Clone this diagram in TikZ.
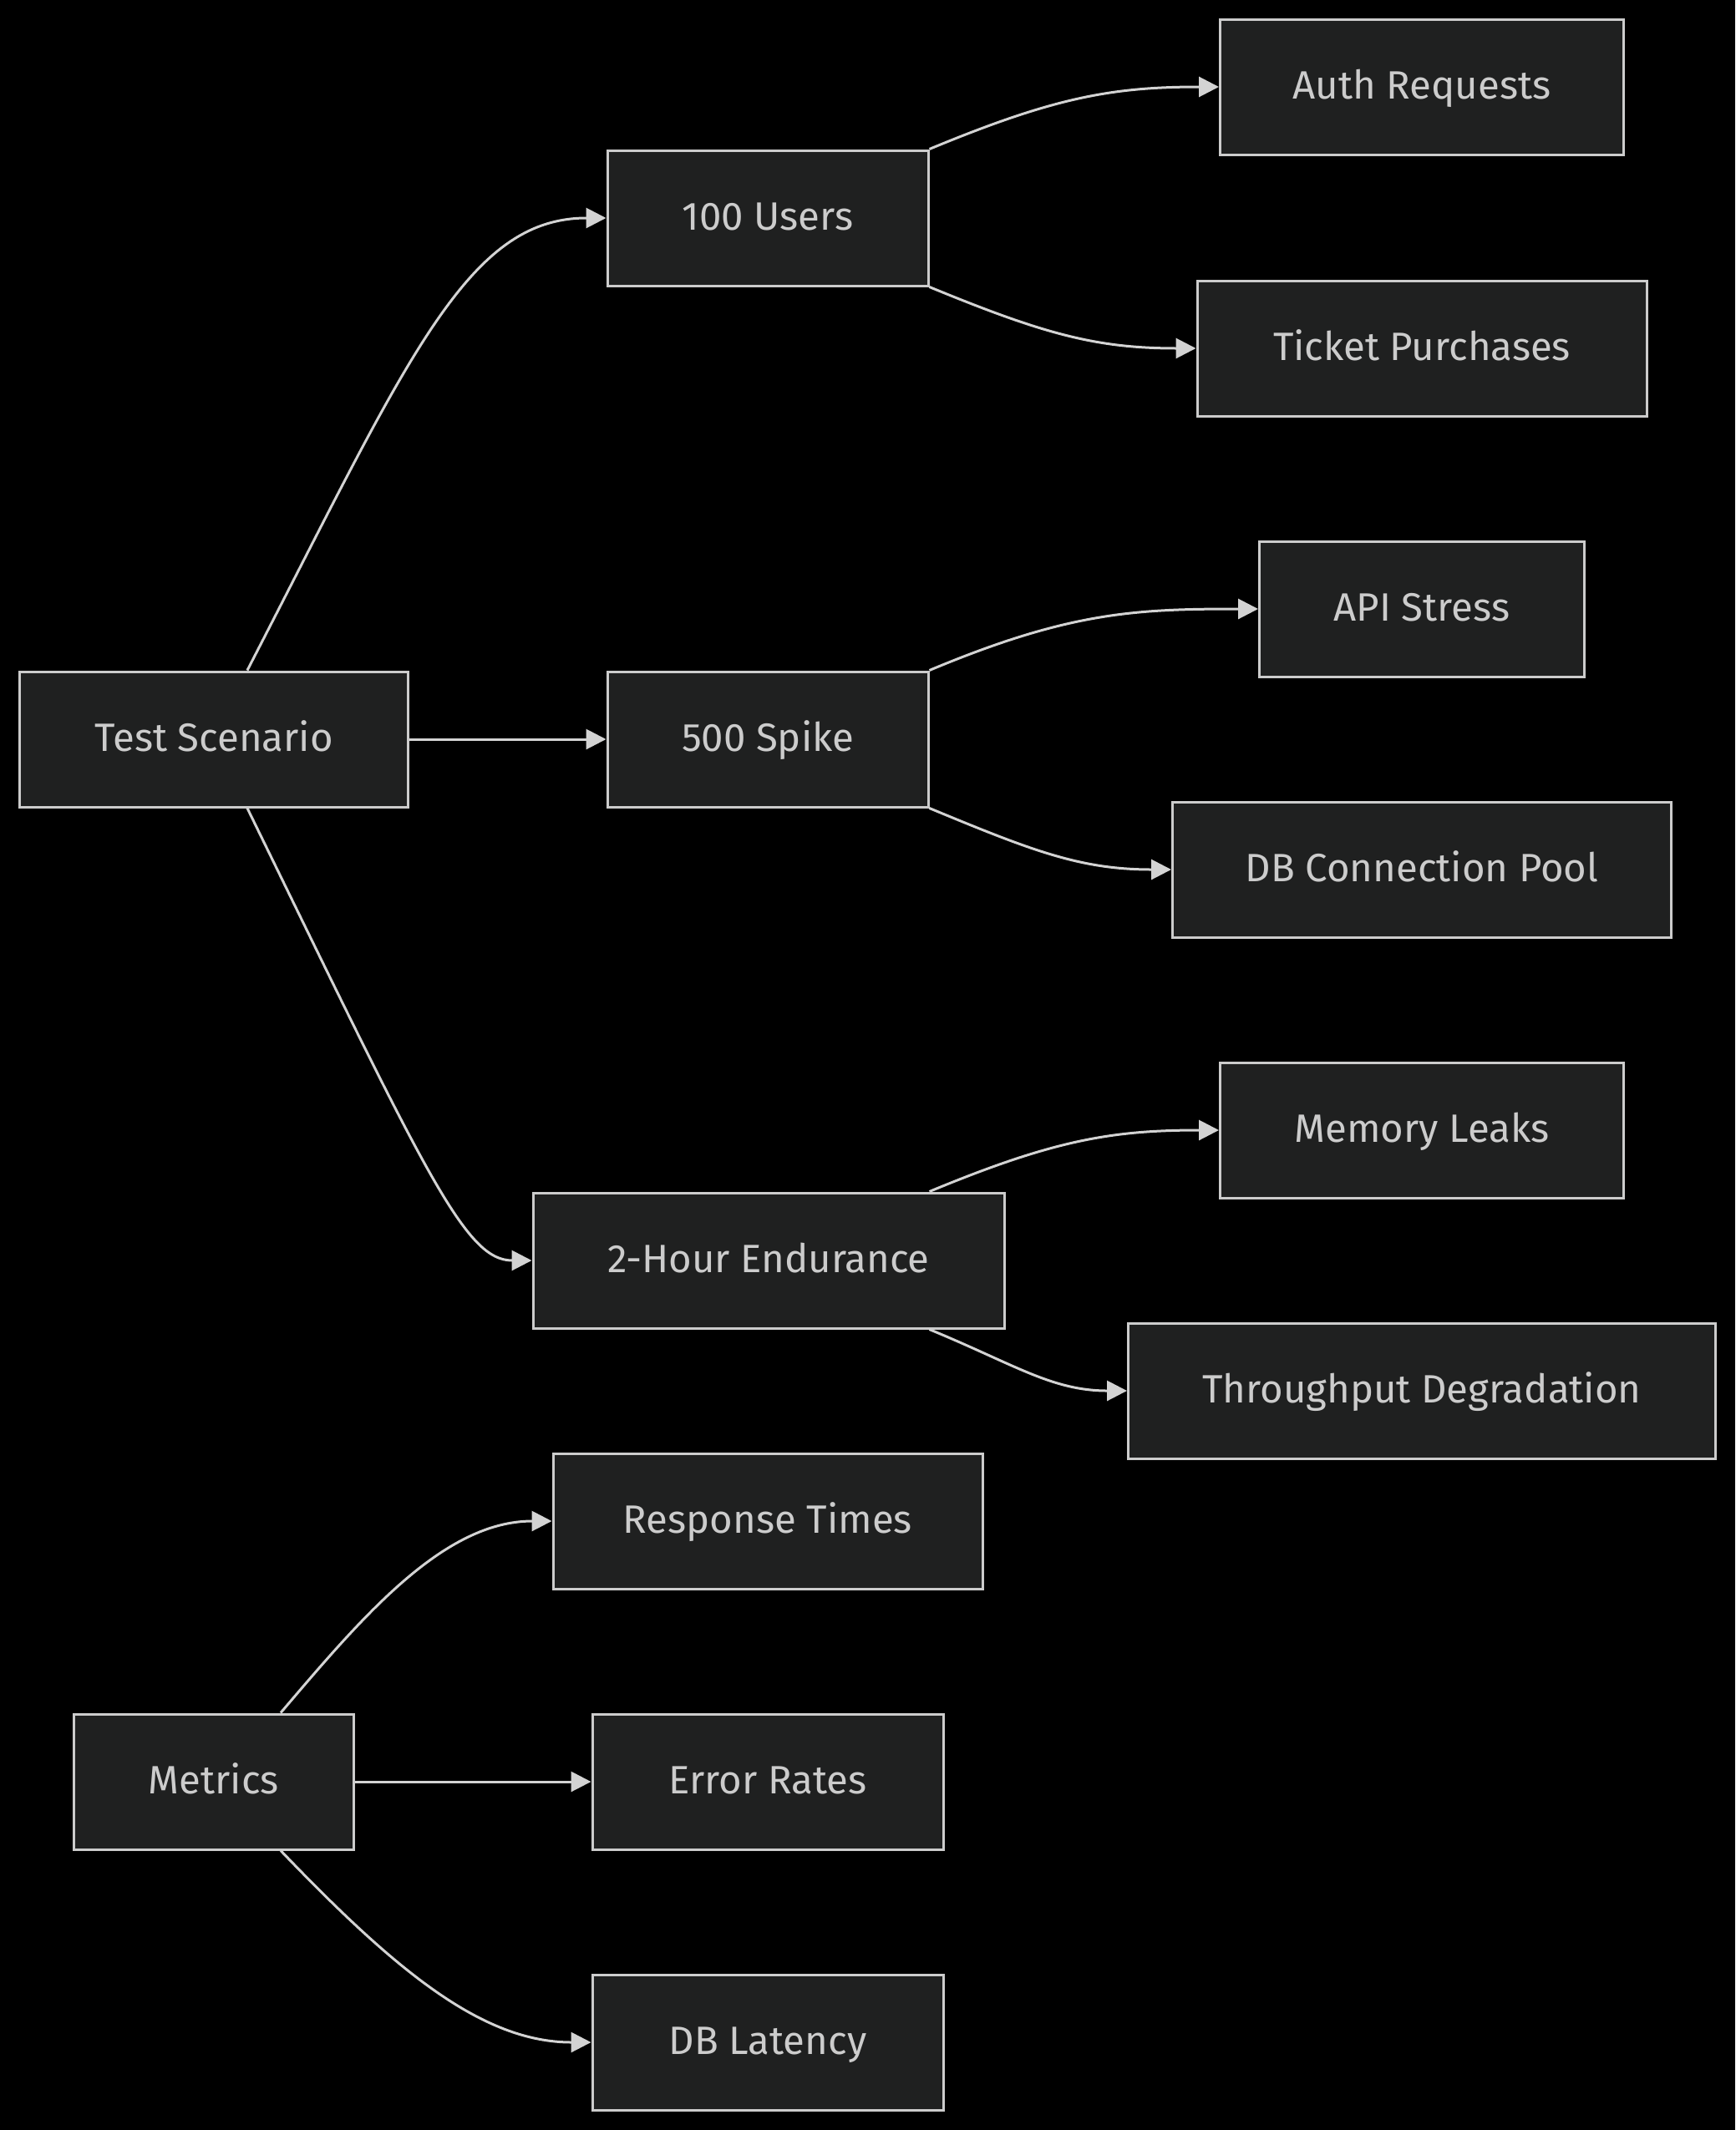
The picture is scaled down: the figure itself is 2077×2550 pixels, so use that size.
\documentclass[tikz,border=0pt]{standalone}
\usepackage{fontspec}
\setmainfont{Fira Sans}
\usetikzlibrary{arrows.meta,calc}

\definecolor{pagebg}{HTML}{000000}
\definecolor{boxfill}{HTML}{1F2020}
\definecolor{boxline}{HTML}{CCCCCC}
\definecolor{boxtext}{HTML}{CCCCCC}
\definecolor{linkcol}{HTML}{D3D3D3}

\begin{document}
\begin{tikzpicture}[x=0.3pt,y=-0.3pt,
  box/.style={draw=boxline, fill=boxfill, line width=0.9pt, rectangle,
    minimum height=48.6pt, inner sep=0pt, text=boxtext,
    font=\fontsize{14.2pt}{16pt}\selectfont, text height=0.86em, text depth=0pt},
  link/.style={draw=linkcol, line width=0.9pt,
    -{Triangle[length=7.2pt,width=7.2pt]}}]

  % canvas
  \fill[pagebg] (0,0) rectangle (2077,2550);
  \useasboundingbox (0,0) rectangle (2077,2550);

  % first column
  \node[box, minimum width=139.5pt] (test) at (256,885) {Test Scenario};
  \node[box, minimum width=100.5pt] (metrics) at (256,2133) {Metrics};

  % second column
  \node[box, minimum width=115.2pt] (u100) at (919,261) {100 Users};
  \node[box, minimum width=115.2pt] (spike) at (919,885) {500 Spike};
  \node[box, minimum width=169.2pt] (endur) at (920,1509) {2-Hour Endurance};
  \node[box, minimum width=154.2pt] (resp) at (919,1821) {Response Times};
  \node[box, minimum width=126pt] (err) at (919,2133) {Error Rates};
  \node[box, minimum width=126pt] (dblat) at (919,2445) {DB Latency};

  % third column
  \node[box, minimum width=144.9pt] (auth) at (1702,104) {Auth Requests};
  \node[box, minimum width=161.4pt] (ticket) at (1702,417) {Ticket Purchases};
  \node[box, minimum width=116.7pt] (api) at (1702,729) {API Stress};
  \node[box, minimum width=179.1pt] (pool) at (1702,1041) {DB Connection Pool};
  \node[box, minimum width=144.9pt] (mem) at (1702,1353) {Memory Leaks};
  \node[box, minimum width=210.9pt] (thru) at (1702,1665) {Throughput Degradation};

  % scenario branches
  \draw[link] ($(test.north)+(40,0)$) .. controls +(193,-374) and +(-167,0) .. (u100.west);
  \draw[link] (test.east) -- (spike.west);
  \draw[link] ($(test.south)+(40,0)$) .. controls +(215,440) and +(-80,0) .. (endur.west);

  % load profiles to their checks
  \draw[link] (u100.north east) .. controls +(147,-61) and +(-130,0) .. (auth.west);
  \draw[link] (u100.south east) .. controls +(136,56) and +(-120,0) .. (ticket.west);
  \draw[link] (spike.north east) .. controls +(167,-70) and +(-147,0) .. (api.west);
  \draw[link] (spike.south east) .. controls +(123,51) and +(-109,0) .. (pool.west);
  \draw[link] (u100.east |- endur.north) .. controls +(147,-61) and +(-130,0) .. (mem.west);
  \draw[link] (u100.east |- endur.south) .. controls +(102,42) and +(-90,0) .. (thru.west);

  % metrics
  \draw[link] ($(metrics.north)+(80,0)$) .. controls +(97,-114) and +(-130,0) .. (resp.west);
  \draw[link] (metrics.east) -- (err.west);
  \draw[link] ($(metrics.south)+(80,0)$) .. controls +(138,144) and +(-130,0) .. (dblat.west);
\end{tikzpicture}
\end{document}
